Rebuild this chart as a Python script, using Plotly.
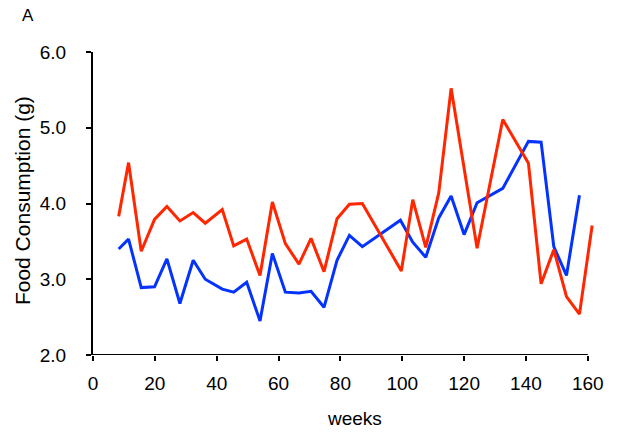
import plotly.graph_objects as go

# Data
blue_weeks = [8.3, 11.5, 15.6, 19.9, 23.9, 28.1, 32.4, 36.3, 41.8, 45.5, 49.7, 54.0, 58.0,
              62.2, 66.6, 70.5, 74.7, 78.9, 82.9, 87.1, 99.4, 103.4, 107.6, 111.8, 115.8,
              120.0, 124.2, 132.5, 140.8, 144.9, 149.0, 153.1, 157.3]
blue_food = [3.40, 3.53, 2.89, 2.90, 3.27, 2.68, 3.25, 3.00, 2.87, 2.83, 2.96, 2.45, 3.34,
             2.83, 2.82, 2.84, 2.63, 3.25, 3.58, 3.43, 3.78, 3.49, 3.29, 3.81, 4.10,
             3.59, 4.01, 4.20, 4.82, 4.81, 3.43, 3.05, 4.11]

red_weeks = [8.3, 11.5, 15.6, 19.9, 23.9, 28.1, 32.4, 36.3, 41.8, 45.5, 49.7, 54.0, 58.0,
             62.2, 66.6, 70.5, 74.7, 78.9, 82.9, 87.1, 99.7, 103.4, 107.6, 111.8, 115.8,
             124.2, 132.5, 140.8, 144.9, 149.0, 153.1, 157.3, 161.4]
red_food = [3.83, 4.54, 3.37, 3.79, 3.96, 3.77, 3.88, 3.74, 3.92, 3.44, 3.53, 3.05, 4.02,
            3.47, 3.20, 3.54, 3.10, 3.80, 3.99, 4.00, 3.11, 4.05, 3.42, 4.14, 5.52,
            3.41, 5.11, 4.53, 2.94, 3.39, 2.77, 2.54, 3.71]

x_ticks = [0, 20, 40, 60, 80, 100, 120, 140, 160]
y_ticks = [2.0, 3.0, 4.0, 5.0, 6.0]
y_tick_labels = ["2.0", "3.0", "4.0", "5.0", "6.0"]

FONT = "Liberation Sans, Arial, sans-serif"

fig = go.Figure()
fig.add_trace(go.Scatter(x=blue_weeks, y=blue_food, mode="lines",
                         line=dict(color="#0433FF", width=3), showlegend=False))
fig.add_trace(go.Scatter(x=red_weeks, y=red_food, mode="lines",
                         line=dict(color="#FF2600", width=3), showlegend=False))

# x-axis line drawn from 0 to 160 only
fig.add_shape(type="line", xref="x", yref="y", x0=0, x1=160, y0=2, y1=2,
              line=dict(color="black", width=2), layer="above")

fig.update_layout(
    width=628, height=432,
    margin=dict(l=93, r=34, t=52, b=77),
    paper_bgcolor="white", plot_bgcolor="white",
    font=dict(family=FONT, size=19, color="black"),
    xaxis=dict(range=[0, 162], tickvals=x_ticks, ticktext=[str(v) for v in x_ticks],
               showline=False, showgrid=False, zeroline=False, automargin=False,
               ticks="outside", ticklen=5, tickwidth=2, tickcolor="black",
               ticklabelstandoff=6),
    yaxis=dict(range=[2, 6], tickvals=y_ticks, ticktext=y_tick_labels,
               showline=True, linecolor="black", linewidth=2,
               showgrid=False, zeroline=False, automargin=False,
               ticks="outside", ticklen=5, tickwidth=2, tickcolor="black",
               ticklabelstandoff=16),
    annotations=[
        dict(text="A", xref="paper", yref="paper", x=-0.1457, y=1.119,
             xanchor="left", yanchor="middle", showarrow=False, font=dict(size=17)),
        dict(text="weeks", xref="paper", yref="paper", x=0.521, y=-0.208,
             xanchor="center", yanchor="middle", showarrow=False, font=dict(size=19)),
        dict(text="Food Consumption (g)", xref="paper", yref="paper", x=-0.1417, y=0.508,
             xanchor="center", yanchor="middle", textangle=-90, showarrow=False,
             font=dict(size=21)),
    ],
)

fig.write_html("out.html", config={"displayModeBar": False},
               post_script="document.body.style.margin='0';")
